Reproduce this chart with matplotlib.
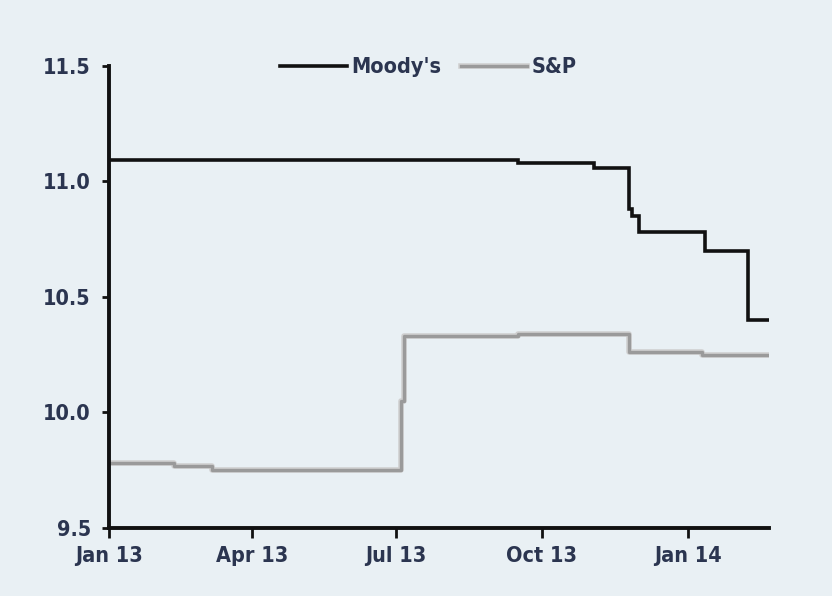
import numpy as np
import pandas as pd
import matplotlib
matplotlib.use("Agg")
import matplotlib.pyplot as plt
import matplotlib.patheffects as pe
from matplotlib import font_manager

# ratings index (step changes)
moodys_dates = ["2013-01-01", "2013-09-16", "2013-11-03", "2013-11-25", "2013-11-27",
                "2013-12-01", "2014-01-12", "2014-02-08", "2014-02-21"]
moodys_vals = [11.09, 11.08, 11.055, 10.88, 10.85, 10.78, 10.70, 10.40, 10.40]

sp_dates = ["2013-01-01", "2013-02-11", "2013-03-07", "2013-07-04", "2013-07-06",
            "2013-09-16", "2013-11-25", "2014-01-10", "2014-02-21"]
sp_vals = [9.78, 9.77, 9.75, 10.05, 10.33, 10.34, 10.26, 10.25, 10.25]

tick_dates = ["2013-01-01", "2013-04-01", "2013-07-01", "2013-10-01", "2014-01-01"]
tick_labels = ["Jan 13", "Apr 13", "Jul 13", "Oct 13", "Jan 14"]

bg = "#e9f0f4"
txt = "#2b3550"
fs = 15.5

names = {f.name for f in font_manager.fontManager.ttflist}
fam = 'Liberation Sans Narrow' if 'Liberation Sans Narrow' in names else 'DejaVu Sans'
plt.rcParams['font.family'] = [fam, 'DejaVu Sans']
plt.rcParams['font.stretch'] = 'condensed'
plt.rcParams['font.weight'] = 'bold'

fig = plt.figure(figsize=(8.32, 5.96), dpi=100, facecolor=bg)
ax = fig.add_axes([0.131, 0.114, 0.793, 0.776], facecolor=bg)

ax.step(pd.to_datetime(moodys_dates), moodys_vals, where="post", color="#111111", lw=2.6,
        label="Moody's", solid_joinstyle="miter")
ax.step(pd.to_datetime(sp_dates), sp_vals, where="post", color="#9a9a9a", lw=2.4,
        label="S&P", path_effects=[pe.Stroke(linewidth=4, foreground="#cfcfcf"), pe.Normal()])

ax.set_xlim(pd.Timestamp("2013-01-01"), pd.Timestamp("2014-02-21"))
ax.set_ylim(9.5, 11.5)
ax.set_yticks([9.5, 10.0, 10.5, 11.0, 11.5])
ax.set_yticklabels(["9.5", "10.0", "10.5", "11.0", "11.5"])
ax.set_xticks(pd.to_datetime(tick_dates))
ax.set_xticklabels(tick_labels)

for s in ["top", "right"]:
    ax.spines[s].set_visible(False)
for s in ["left", "bottom"]:
    ax.spines[s].set_linewidth(2.8)
    ax.spines[s].set_color("#111111")
ax.tick_params(axis="x", length=7, width=2, color="#111111", labelsize=fs,
               labelcolor=txt, pad=6)
ax.tick_params(axis="y", length=5, width=2, color="#111111", labelsize=fs,
               labelcolor=txt, pad=8)

leg = ax.legend(loc="upper center", bbox_to_anchor=(0.484, 1.06), ncol=2, frameon=False,
                fontsize=fs, handlelength=3.1, handletextpad=0.2, columnspacing=0.9)
for t in leg.get_texts():
    t.set_color(txt)

fig.savefig("out.png", dpi=100, facecolor=bg)
